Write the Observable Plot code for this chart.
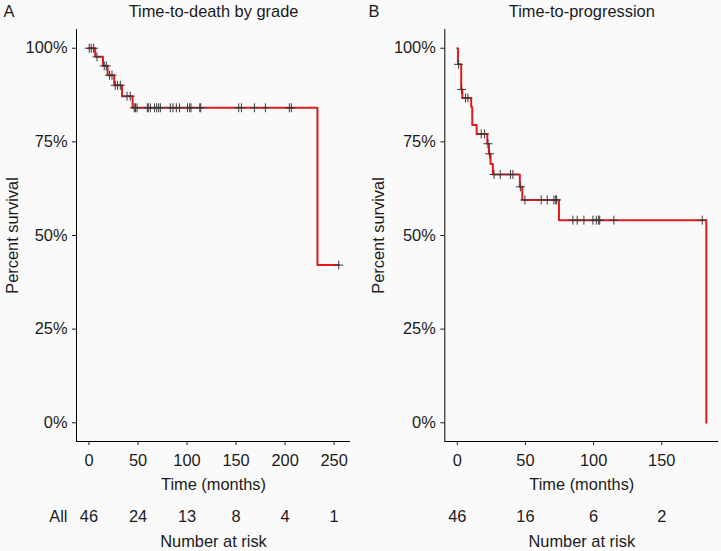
<!DOCTYPE html>
<html>
<head>
<meta charset="utf-8">
<script src="https://cdn.jsdelivr.net/npm/d3@7"></script>
<script src="https://cdn.jsdelivr.net/npm/@observablehq/plot@0.6"></script>
<style>
  html, body { margin: 0; padding: 0; background: #fafafa; }
  #wrap { position: relative; width: 721px; height: 551px; background: #fafafa; }
  #panelA { position: absolute; left: 0; top: 0; width: 360px; }
  #panelB { position: absolute; left: 360px; top: 0; width: 361px; }
</style>
</head>
<body>
<div id="wrap"><div id="panelA"></div><div id="panelB"></div></div>
<script>
// ---- Panel A: Time-to-death by grade ----
const stepTimesA = [0, 6.4, 14.3, 19, 25.8, 33.7, 44.5, 233, 254.7];
const stepSurvA  = [1, 0.977, 0.953, 0.928, 0.901, 0.872, 0.841, 0.421, 0.421];
const censorA = [0.3, 2.3, 4.7, 8.2, 15.6, 17.7, 21, 23.5, 26.8, 29.2, 32, 38.8, 42.1,
  46.2, 47.5, 49, 59.5, 60.5, 62.6, 66.9, 69, 71, 72.8, 82.9, 85.7, 89.1, 92.4,
  100.5, 102.7, 104, 113, 114, 152.7, 155.5, 168.7, 179.9, 204.4, 206.4, 254.7];
const riskTimesA = [0, 50, 100, 150, 200, 250];
const riskA = [46, 24, 13, 8, 4, 1];

// ---- Panel B: Time-to-progression ----
const stepTimesB = [0, 0.5, 2.9, 3.7, 10.2, 11, 14.2, 22, 23.2, 24.4, 26.1, 45.9, 47.7, 74.6, 182.7];
const stepSurvB  = [1, 0.957, 0.890, 0.867, 0.843, 0.795, 0.771, 0.745, 0.718, 0.691, 0.663, 0.630, 0.595, 0.541, 0];
const censorB = [1.0, 3.2, 6.1, 7.8, 17.6, 20, 22.5, 23.6, 27, 31.5, 39, 40.8, 46.3, 49.6,
  61.6, 66, 70.9, 72.2, 72.9, 84.8, 88, 92.9, 99.5, 102, 103.7, 104.5, 114.9, 179.7];
const riskTimesB = [0, 50, 100, 150];
const riskB = [46, 16, 6, 2];

const yTicks = [0, 0.25, 0.5, 0.75, 1];

function panel(o) {
  const steps = o.times.map((t, i) => ({t, s: o.surv[i]}));
  const lookup = t => o.surv[Math.max(0, d3.bisectRight(o.times, t) - 1)];
  const cens = o.censor.map(t => ({t, s: lookup(t)}));
  const risk = o.riskT.map((t, i) => ({t, n: String(o.risk[i])}));
  const mid = {lineAnchor: "middle"};
  const marks = [
    Plot.ruleX([o.xDomain[0]], {stroke: "#000", strokeWidth: 1}),
    Plot.ruleY([-0.05], {stroke: "#000", strokeWidth: 1}),
    Plot.line(steps, {x: "t", y: "s", curve: "step-after", stroke: "#e31a1c", strokeWidth: 2}),
    Plot.dot(cens, {x: "t", y: "s", symbol: "plus", r: 3, stroke: "#3a3a3a", strokeWidth: 1}),
    Plot.text([o.title], {...mid, text: d => d, frameAnchor: "top", dy: -17.3}),
    Plot.text([o.letter], {...mid, text: d => d, frameAnchor: "top-left", textAnchor: "start", dx: o.letterDx, dy: -17.5}),
    Plot.text(["Percent survival"], {...mid, text: d => d, frameAnchor: "left", textAnchor: "middle", rotate: -90, dx: o.ylabDx}),
    Plot.text(["Time (months)"], {...mid, text: d => d, frameAnchor: "bottom", dy: 43.5}),
    Plot.text(risk, {...mid, x: "t", text: "n", frameAnchor: "bottom", dy: 75}),
    Plot.text(["Number at risk"], {...mid, text: d => d, frameAnchor: "bottom", dy: 100})
  ];
  if (o.allLabel) marks.push(Plot.text([o.allLabel], {...mid, text: d => d, frameAnchor: "bottom-left", textAnchor: "end", dx: -9, dy: 75}));
  return Plot.plot({
    width: o.width,
    height: 551,
    marginLeft: o.marginLeft,
    marginRight: o.marginRight,
    marginTop: 29,
    marginBottom: 110,
    style: {background: "#fafafa", fontFamily: "'Liberation Sans', Arial, Helvetica, sans-serif", fontSize: "16.4px", color: "#1a1a1a", overflow: "visible", display: "block"},
    x: {domain: o.xDomain, ticks: o.xTicks, tickSize: 4, tickPadding: 9, label: null},
    y: {domain: [-0.05, 1.05], ticks: yTicks, tickFormat: d => `${Math.round(d * 100)}%`, tickSize: 4, tickPadding: 5, label: null},
    marks
  });
}

document.getElementById("panelA").appendChild(panel({
  times: stepTimesA, surv: stepSurvA, censor: censorA, riskT: riskTimesA, risk: riskA,
  xDomain: [-12.7, 266.7], xTicks: riskTimesA, width: 360, marginLeft: 76, marginRight: 10,
  title: "Time-to-death by grade", letter: "A", letterDx: -73, ylabDx: -64, allLabel: "All"
}));
document.getElementById("panelB").appendChild(panel({
  times: stepTimesB, surv: stepSurvB, censor: censorB, riskT: riskTimesB, risk: riskB,
  xDomain: [-9.15, 191.85], xTicks: riskTimesB, width: 361, marginLeft: 84.3, marginRight: 2.7,
  title: "Time-to-progression", letter: "B", letterDx: -76.3, ylabDx: -66.3, allLabel: null
}));
</script>
</body>
</html>
